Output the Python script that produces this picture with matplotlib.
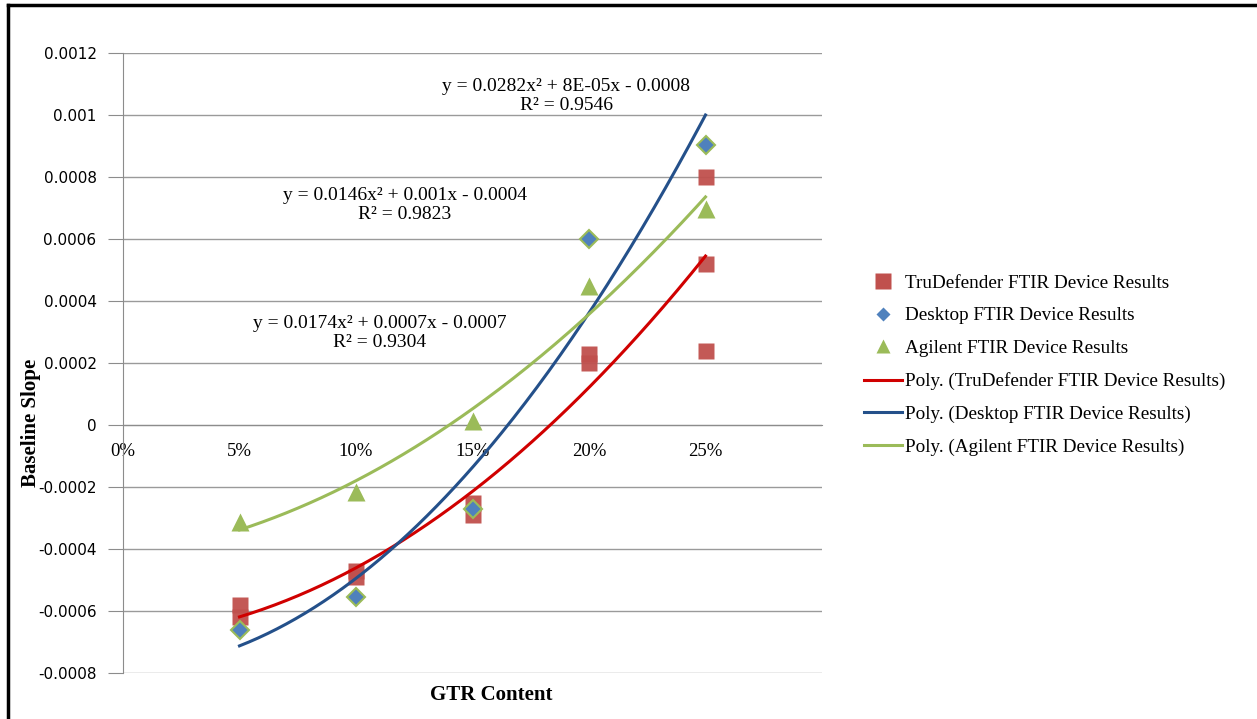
import numpy as np
import matplotlib
matplotlib.use("Agg")
import matplotlib.pyplot as plt
from matplotlib.lines import Line2D

# ---- data ----
tru_x = [0.05, 0.05, 0.10, 0.10, 0.15, 0.15, 0.20, 0.20, 0.25, 0.25, 0.25]
tru_y = [-0.00058, -0.00062, -0.00047, -0.00049, -0.00025, -0.00029,
         0.00023, 0.00020, 0.00080, 0.00052, 0.00024]
desk_x = [0.05, 0.10, 0.15, 0.20, 0.25]
desk_y = [-0.00066, -0.000555, -0.00027, 0.00060, 0.000903]
agi_x = [0.05, 0.10, 0.15, 0.20, 0.25]
agi_y = [-0.000313, -0.000217, 0.000012, 0.000448, 0.000697]

x_ticks = [0.0, 0.05, 0.10, 0.15, 0.20, 0.25]
x_tick_labels = ["0%", "5%", "10%", "15%", "20%", "25%"]
y_ticks = [-0.0008, -0.0006, -0.0004, -0.0002, 0, 0.0002, 0.0004, 0.0006, 0.0008, 0.001, 0.0012]
y_tick_labels = ["-0.0008", "-0.0006", "-0.0004", "-0.0002", "0", "0.0002", "0.0004",
                 "0.0006", "0.0008", "0.001", "0.0012"]

eq_desk = "y = 0.0282x\u00b2 + 8E-05x - 0.0008\nR\u00b2 = 0.9546"
eq_agi = "y = 0.0146x\u00b2 + 0.001x - 0.0004\nR\u00b2 = 0.9823"
eq_tru = "y = 0.0174x\u00b2 + 0.0007x - 0.0007\nR\u00b2 = 0.9304"

labels = ["TruDefender FTIR Device Results", "Desktop FTIR Device Results",
          "Agilent FTIR Device Results"]

# ---- style ----
serif = "Liberation Serif"
c_red_m = "#C0504D"
c_blue_m = "#4F81BD"
c_green = "#9BBB59"
c_red_l = "#D00000"
c_blue_l = "#24508A"

W, H = 1257, 719
fig = plt.figure(figsize=(W / 100, H / 100), dpi=100)
ax = fig.add_axes([123 / W, 1 - 673 / H, (822 - 123) / W, (673 - 53) / H])

ax.set_xlim(0, 0.30)
ax.set_ylim(-0.0008, 0.0012)

for v in y_ticks:
    ax.axhline(v, color="#9A9A9A", lw=1.0, zorder=0)

for s in ["top", "right"]:
    ax.spines[s].set_visible(False)
ax.spines["left"].set_color("#8C8C8C")
ax.spines["bottom"].set_color("#8C8C8C")
ax.spines["bottom"].set_position(("data", 0))

ax.set_yticks(y_ticks)
ax.set_yticklabels(y_tick_labels, fontfamily="DejaVu Sans", fontsize=11)
ax.tick_params(axis="y", length=11, color="#8C8C8C", pad=8)
ax.set_xticks(x_ticks)
ax.set_xticklabels(x_tick_labels, fontfamily=serif, fontsize=13.5)
ax.tick_params(axis="x", length=0, pad=13)

# fits
xs = np.linspace(0.05, 0.25, 200)
fit_t = np.polyfit(tru_x, tru_y, 2)
fit_d = np.polyfit(desk_x, desk_y, 2)
fit_a = np.polyfit(agi_x, agi_y, 2)
ax.plot(xs, np.polyval(fit_t, xs), color=c_red_l, lw=2.2, zorder=3)
ax.plot(xs, np.polyval(fit_d, xs), color=c_blue_l, lw=2.2, zorder=3)
ax.plot(xs, np.polyval(fit_a, xs), color=c_green, lw=2.2, zorder=3)

ax.plot(tru_x, tru_y, "s", color=c_red_m, ms=12, alpha=0.95, mec="none", zorder=2)
ax.plot(desk_x, desk_y, "D", color=c_blue_m, ms=9, mec=c_green, mew=1.5, zorder=4)
ax.plot(agi_x, agi_y, "^", color=c_green, ms=12.5, mec="none", zorder=4)

# equations
def ptx(px, py):
    return px / W, 1 - py / H

fig.text(*ptx(566, 96), eq_desk, ha="center", va="center", fontfamily=serif,
         fontsize=14, linespacing=1.2)
fig.text(*ptx(405, 205), eq_agi, ha="center", va="center", fontfamily=serif,
         fontsize=14, linespacing=1.2)
fig.text(*ptx(380, 333), eq_tru, ha="center", va="center", fontfamily=serif,
         fontsize=14, linespacing=1.2)

# axis titles
fig.text(*ptx(31, 423), "Baseline Slope", rotation=90, ha="center", va="center",
         fontfamily=serif, fontsize=15, fontweight="bold")
fig.text(*ptx(491, 695), "GTR Content", ha="center", va="center",
         fontfamily=serif, fontsize=15, fontweight="bold")

# legend
handles = [
    Line2D([], [], ls="none", marker="s", color=c_red_m, ms=11, mec="none"),
    Line2D([], [], ls="none", marker="D", color=c_blue_m, ms=7.5, mec="none"),
    Line2D([], [], ls="none", marker="^", color=c_green, ms=10, mec="none"),
    Line2D([], [], color=c_red_l, lw=2.2),
    Line2D([], [], color=c_blue_l, lw=2.2),
    Line2D([], [], color=c_green, lw=2.2),
]
leg_labels = labels + ["Poly. (" + l + ")" for l in labels]
fig.legend(handles, leg_labels, loc="center left", bbox_to_anchor=(864 / W, 1 - 365 / H),
           frameon=False, prop={"family": serif, "size": 13.8}, handlelength=2.0,
           handletextpad=0.12, labelspacing=0.8, borderpad=0, borderaxespad=0)

# outer frame (left and top only, image is cropped)
fig.add_artist(Line2D([8 / W, 8 / W], [0, 1 - 5 / H], transform=fig.transFigure,
                      color="black", lw=2.5))
fig.add_artist(Line2D([8 / W, 1], [1 - 5 / H, 1 - 5 / H], transform=fig.transFigure,
                      color="black", lw=2.5))

fig.savefig("out.png", dpi=100)
